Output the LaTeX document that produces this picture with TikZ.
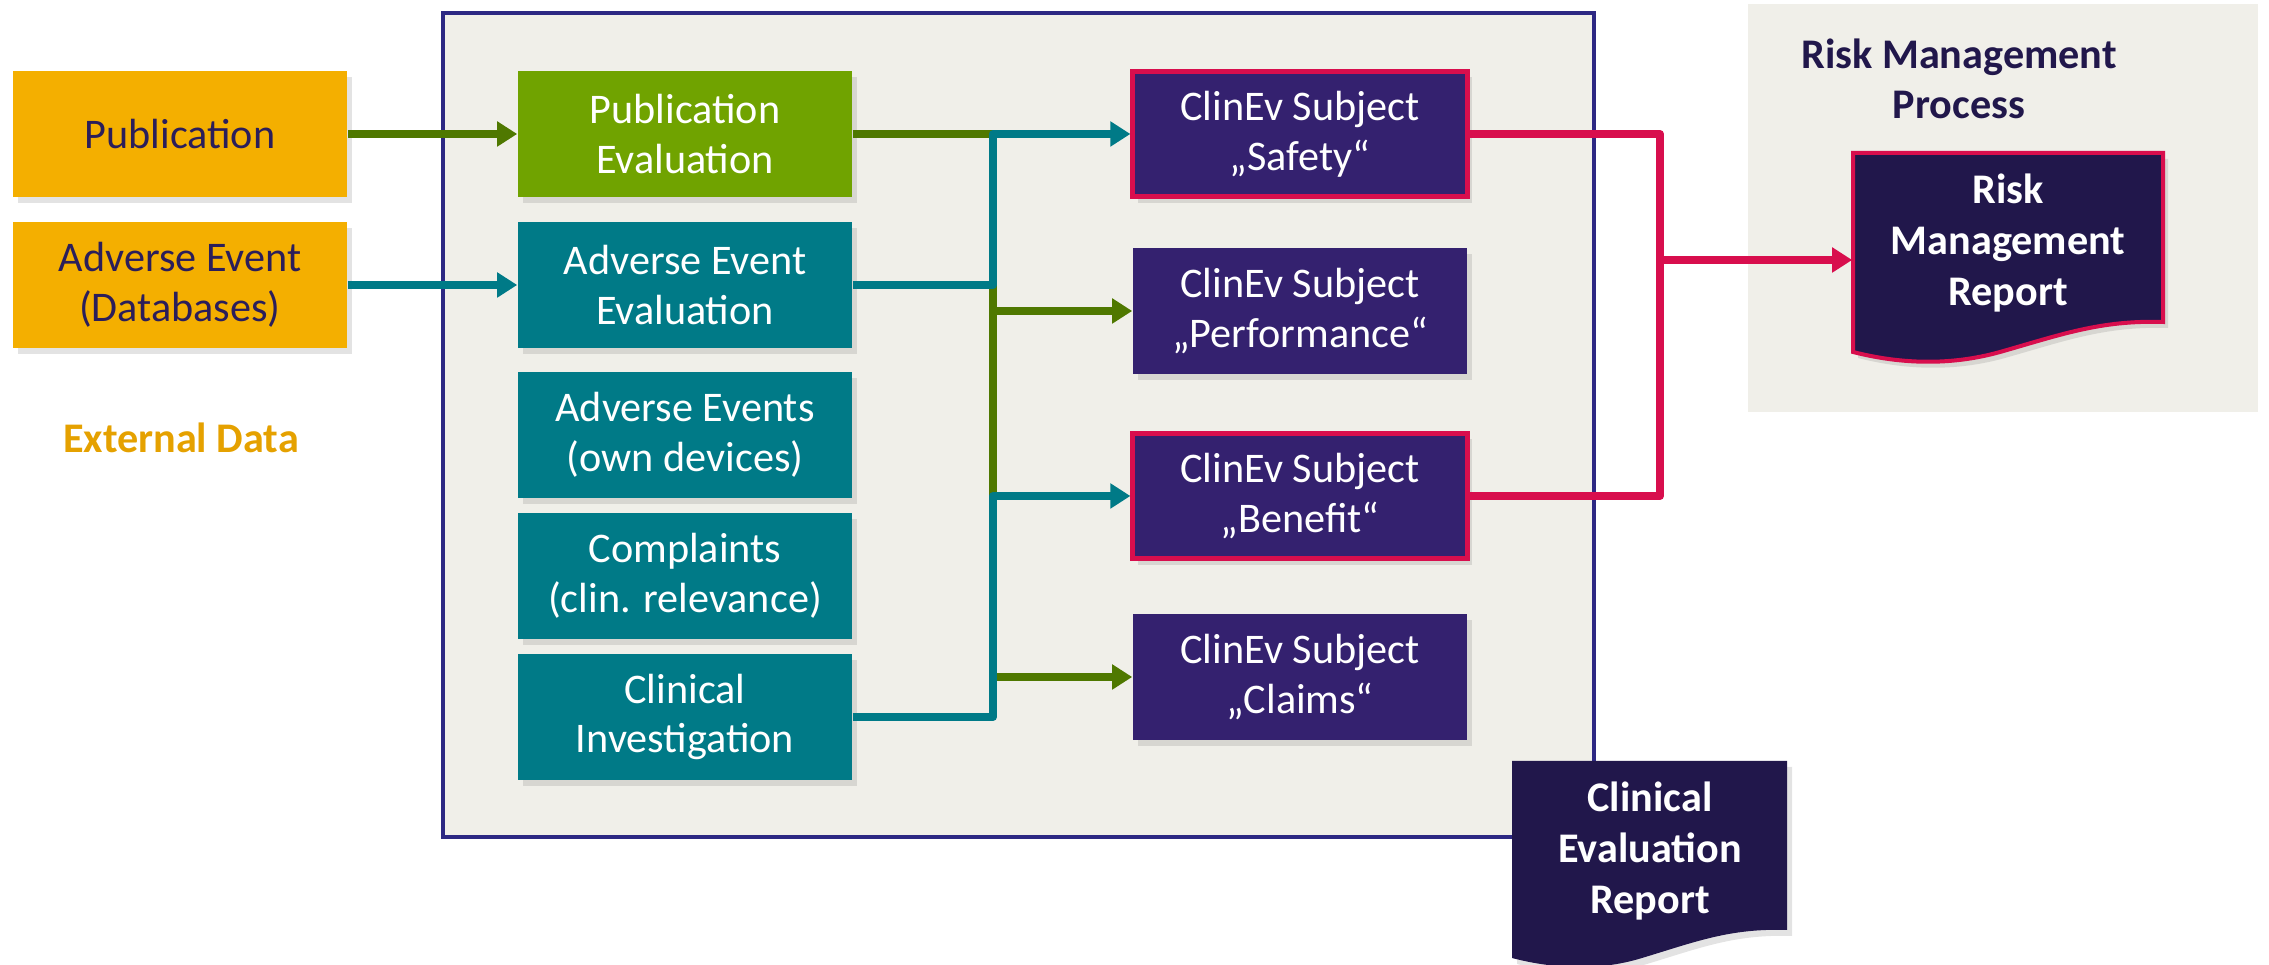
\documentclass[tikz,border=0pt]{standalone}
\usepackage{fontspec}
\setmainfont{Carlito}
\usetikzlibrary{positioning,arrows.meta,shadows}

\definecolor{extorange}{HTML}{F4AF00}
\definecolor{extlabel}{HTML}{E5A100}
\definecolor{textnavy}{HTML}{2B1E5A}
\definecolor{boxgreen}{HTML}{70A300}
\definecolor{linegreen}{HTML}{4F7800}
\definecolor{evalteal}{HTML}{007A87}
\definecolor{subjpurple}{HTML}{34216F}
\definecolor{riskred}{HTML}{D80E4D}
\definecolor{docnavy}{HTML}{21174B}
\definecolor{framenavy}{HTML}{2D2883}
\definecolor{paper}{HTML}{F0EFE9}

\begin{document}
\begin{tikzpicture}[x=0.01cm,y=-0.01cm]
            \tikzstyle{box}=[rectangle, minimum width=3.34cm, minimum height=1.25cm,
            inner sep=2pt, align=center, font=\fontsize{12pt}{14.2pt}\selectfont,
            drop shadow={opacity=0.22, shadow xshift=0.05cm, shadow yshift=-0.06cm}]
            \tikzstyle{extbox}=[box, fill=extorange, text=textnavy]
            \tikzstyle{greenbox}=[box, fill=boxgreen, text=white]
            \tikzstyle{tealbox}=[box, fill=evalteal, text=white]
            \tikzstyle{subjbox}=[box, fill=subjpurple, text=white]
            \tikzstyle{riskbox}=[subjbox, draw=riskred, line width=0.05cm]
            \tikzstyle{doctext}=[align=center, text=white, minimum width=3.1cm,
            font=\bfseries\fontsize{12pt}{14.6pt}\selectfont]
            \tikzstyle{flow}=[line width=0.08cm, line join=round]
            \tikzstyle{flowtip}=[flow, -{Triangle[length=0.2cm,width=0.24cm]}]
            \useasboundingbox (0,0) rectangle (2269,965);
            % backgrounds
            \fill[paper] (1748,4) rectangle (2258,412);
            \draw[framenavy, fill=paper, line width=0.045cm] (443,13) rectangle (1594,837);
            % external data
            \node[extbox] (pub) at (180,134) {Publication};
            \node[extbox] (aedb) at (180,285) {Adverse Event\\(Databases)};
            \node[text=extlabel, font=\bfseries\fontsize{12pt}{14.2pt}\selectfont]
            (extdata) at (181,438) {External Data};
            % evaluations
            \node[greenbox] (pubeval) at (685,134) {Publication\\Evaluation};
            \node[tealbox] (aeeval) at (685,285) {Adverse Event\\Evaluation};
            \node[tealbox] (aeown) at (685,435) {Adverse Events\\(own devices)};
            \node[tealbox] (compl) at (685,576) {Complaints\\(clin. relevance)};
            \node[tealbox] (clininv) at (685,717) {Clinical\\Investigation};
            % subjects
            \node[riskbox] (safety) at (1300,134) {ClinEv Subject\\„Safety“};
            \node[subjbox] (perf) at (1300,311) {ClinEv Subject\\„Performance“};
            \node[riskbox] (benefit) at (1300,496) {ClinEv Subject\\„Benefit“};
            \node[subjbox] (claims) at (1300,677) {ClinEv Subject\\„Claims“};
            \coordinate (j1) at (993,134);
            \coordinate (j3) at (993,496);
            \coordinate (j4) at (993,677);
            \coordinate (jr) at (1660,260);
            % risk management
            \node[text=docnavy, align=center, font=\bfseries\fontsize{12pt}{14.4pt}\selectfont]
            (rmp) at (1959,79) {Risk Management\\Process};
            \draw[riskred, fill=docnavy, line width=0.04cm,
            drop shadow={opacity=0.22, shadow xshift=0.05cm, shadow yshift=-0.06cm}]
            (1853,153) -- (2163,153) -- (2163,322)
            .. controls (2100,320) and (2060,335) .. (2000,352)
            .. controls (1950,366) and (1900,364) .. (1853,352) -- cycle;
            \node[doctext] (rmr) at (2008,243) {Risk\\Management\\Report};
            \fill[docnavy, drop shadow={opacity=0.22, shadow xshift=0.05cm, shadow yshift=-0.06cm}]
            (1512,761) -- (1787,761) -- (1787,930)
            .. controls (1730,928) and (1695,942) .. (1642,958)
            .. controls (1597,972) and (1550,968) .. (1512,958) -- cycle;
            \node[doctext, minimum width=2.75cm] (cer) at (1650,851) {Clinical\\Evaluation\\Report};
            % connectors
            \draw[flowtip, linegreen] (pub) -- (pubeval);
            \draw[flowtip, evalteal] (aedb) -- (aeeval);
            \draw[flow, linegreen] (pubeval.east) -- (j1) -- (j4);
            \draw[flowtip, linegreen] (j1 |- perf.west) -- (perf.west);
            \draw[flowtip, linegreen] (j4) -- (claims.west);
            \draw[flowtip, evalteal] (aeeval.east) -| (j1) -- (safety.west);
            \draw[flowtip, evalteal] (clininv.east) -| (j3) -- (benefit.west);
            \draw[flow, riskred] (safety.east) -| (jr) |- (benefit.east);
            \draw[flowtip, riskred] (jr) -- (jr -| rmr.west);
        \end{tikzpicture}
\end{document}
